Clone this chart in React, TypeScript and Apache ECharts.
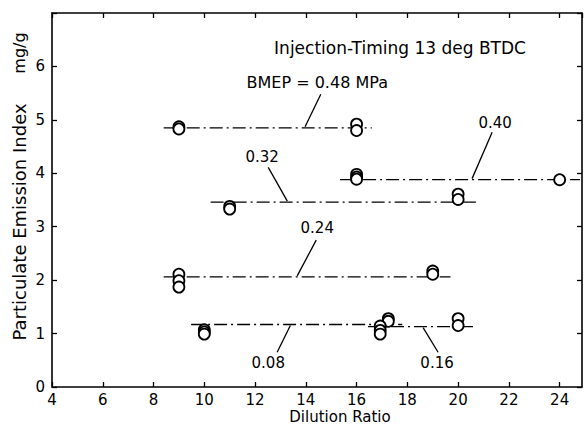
import React, { useEffect, useRef } from "react";
import * as echarts from "echarts";

const FONT = "DejaVu Sans";

// x tick labels (Dilution Ratio) and y tick labels (mg/g)
const xTicks = [4, 6, 8, 10, 12, 14, 16, 18, 20, 22, 24];
const yTicks = [0, 1, 2, 3, 4, 5, 6];

// BMEP groups
const groupNames = ["0.48", "0.40", "0.32", "0.24", "0.08", "0.16"];

// fitted horizontal lines: [xStart, xEnd, y]
const fitLines: number[][] = [
  [8.4, 16.6, 4.85],
  [15.35, 24.8, 3.88],
  [10.25, 20.7, 3.46],
  [8.4, 19.7, 2.06],
  [9.48, 17.8, 1.17],
  [16.45, 20.6, 1.13],
];

// measured points per group: [dilution ratio, index]
const pts048: number[][] = [[9, 4.87], [9, 4.83], [16, 4.92], [16, 4.8]];
const pts040: number[][] = [[16, 3.98], [16, 3.93], [16, 3.89], [24, 3.88]];
const pts032: number[][] = [[11, 3.38], [11, 3.33], [20, 3.61], [20, 3.51]];
const pts024: number[][] = [[9, 2.11], [9, 1.99], [9, 1.87], [19, 2.17], [19, 2.11]];
const pts008: number[][] = [[10, 1.07], [10, 1.03], [10, 0.99], [17.25, 1.28], [17.25, 1.23]];
const pts016: number[][] = [[16.93, 1.14], [16.93, 1.06], [16.93, 0.99], [20, 1.28], [20, 1.15]];
const groupPoints = [pts048, pts040, pts032, pts024, pts008, pts016];

// annotation labels
const labelX = [14.45, 21.46, 12.28, 14.45, 12.52, 19.17];
const labelY = [5.7, 4.95, 4.3, 2.97, 0.45, 0.45];
const labelText = ["BMEP = 0.48 MPa", "0.40", "0.32", "0.24", "0.08", "0.16"];
const labelSize = [16, 15, 15, 15, 15, 15];

// annotation arrows: [x1, y1, x2, y2] (tip at x2,y2)
const arrows: number[][] = [
  [14.59, 5.48, 13.97, 4.87],
  [21.34, 4.77, 20.55, 3.9],
  [12.52, 4.11, 13.27, 3.48],
  [14.41, 2.75, 13.66, 2.08],
  [12.87, 0.65, 13.39, 1.15],
  [19.21, 0.65, 18.62, 1.11],
];

export default function App() {
  const ref = useRef<HTMLDivElement>(null);
  useEffect(() => {
    document.body.style.margin = "0";
    if (!ref.current) return;
    const chart = echarts.init(ref.current, null, { renderer: "svg" });
    const black = "#000";
    const axisCommon = {
      type: "value" as const,
      splitLine: { show: false },
      axisLine: { show: true, onZero: false, lineStyle: { color: black, width: 1.6 } },
      axisTick: { show: true, inside: true, length: 5, lineStyle: { color: black, width: 1.3 } },
    };
    const series: any[] = [];
    fitLines.forEach((l, i) => {
      series.push({
        type: "line",
        name: "fit " + groupNames[i],
        data: [[l[0], l[2]], [l[1], l[2]]],
        symbol: "none",
        z: 2,
        lineStyle: { color: black, width: 1.3, type: [13, 4, 2, 4] },
      });
    });
    groupPoints.forEach((p, i) => {
      series.push({
        type: "scatter",
        name: "BMEP " + groupNames[i],
        data: p,
        symbol: "circle",
        symbolSize: 11,
        z: 3,
        itemStyle: { color: "#fff", borderColor: black, borderWidth: 1.8, opacity: 1 },
      });
    });
    series.push({
      type: "line",
      name: "arrows",
      data: [],
      symbol: "none",
      markLine: {
        silent: true,
        symbol: ["none", "arrow"],
        symbolSize: [0, 9],
        label: { show: false },
        lineStyle: { color: black, width: 1.3, type: "solid" },
        data: arrows.map((a) => [{ coord: [a[0], a[1]] }, { coord: [a[2], a[3]] }]),
      },
    });

    const txt = (text: string, x: number, y: number, size: number, rot = 0) => ({
      type: "text",
      x,
      y,
      rotation: rot,
      z: 10,
      style: {
        text,
        fill: black,
        font: `${size}px "${FONT}"`,
        lineHeight: size,
        textAlign: "center",
        textVerticalAlign: "middle",
        align: "center",
        verticalAlign: "middle",
      },
    });

    chart.setOption({
      animation: false,
      backgroundColor: "#fff",
      textStyle: { fontFamily: FONT },
      grid: { left: 52, right: 2, top: 13, bottom: 38, containLabel: false },
      xAxis: [
        {
          ...axisCommon,
          position: "bottom",
          min: xTicks[0],
          max: 24.88,
          interval: 2,
          axisLabel: {
            color: black,
            fontSize: 15,
            lineHeight: 14,
            fontFamily: FONT,
            margin: 6,
            showMaxLabel: false,
            formatter: (v: number) => (xTicks.indexOf(v) >= 0 ? String(v) : ""),
          },
        },
        {
          ...axisCommon,
          position: "top",
          min: xTicks[0],
          max: 24.88,
          interval: 2,
          axisLabel: { show: false },
        },
      ],
      yAxis: [
        {
          ...axisCommon,
          position: "left",
          min: yTicks[0],
          max: 7,
          interval: 1,
          axisLabel: {
            color: black,
            fontSize: 15,
            fontFamily: FONT,
            margin: 7,
            formatter: (v: number) => (yTicks.indexOf(v) >= 0 ? String(v) : ""),
          },
        },
        {
          ...axisCommon,
          position: "right",
          min: yTicks[0],
          max: 7,
          interval: 1,
          axisLabel: { show: false },
        },
      ],
      series,
    });

    const annot = labelText.map((t, i) => {
      const p = chart.convertToPixel({ gridIndex: 0 }, [labelX[i], labelY[i]]) as number[];
      return txt(t, p[0], p[1], labelSize[i]);
    });

    chart.setOption({
      graphic: [
        txt("Injection-Timing 13 deg BTDC", 400, 48, 17),
        txt("Dilution Ratio", 340, 417, 15),
        txt("Particulate Emission Index", 19, 222, 18, Math.PI / 2),
        txt("mg/g", 19, 53, 16, Math.PI / 2),
        ...annot,
      ],
    });
    return () => chart.dispose();
  }, []);
  return <div ref={ref} style={{ width: 584, height: 425 }} />;
}
